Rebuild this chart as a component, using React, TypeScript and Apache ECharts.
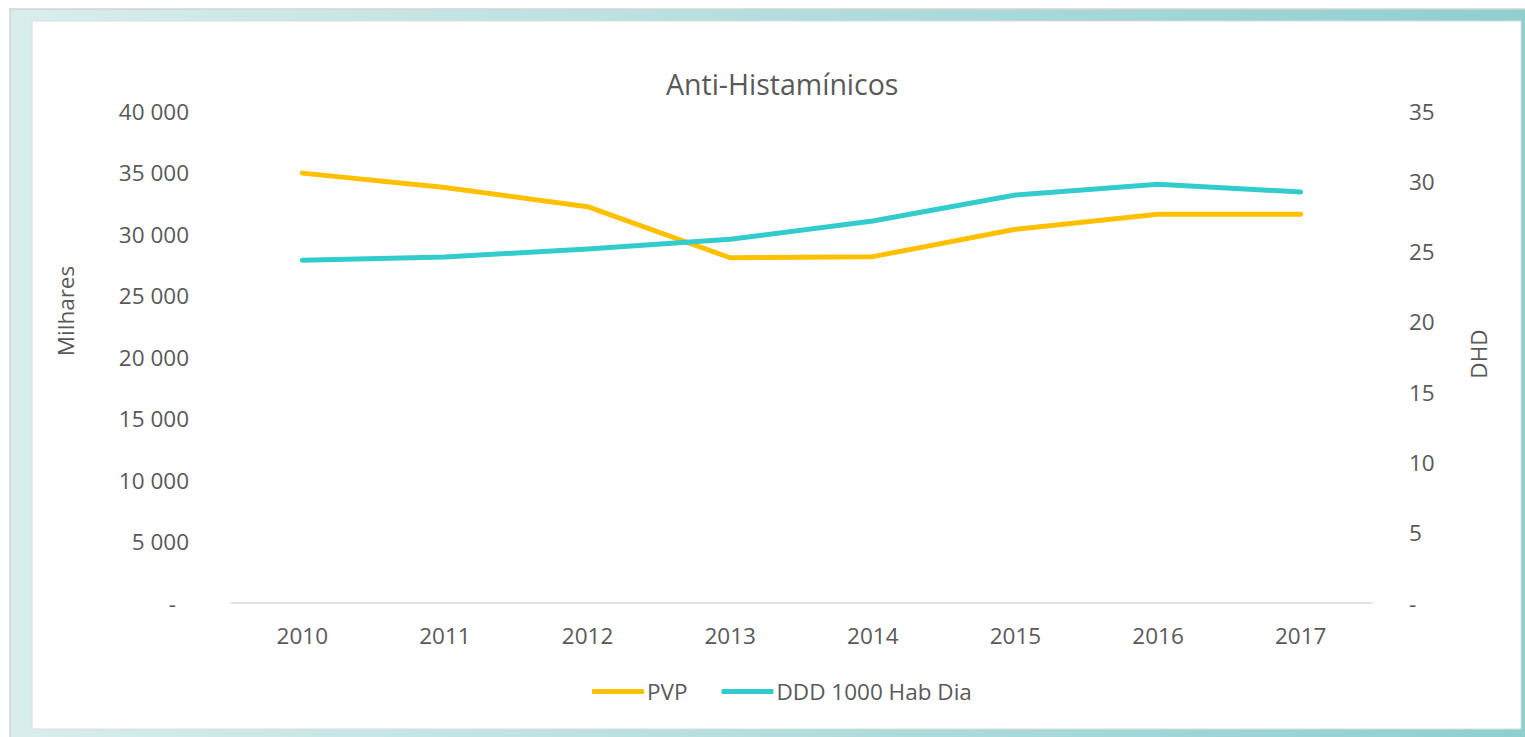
import React, { useEffect, useRef } from "react";
import * as echarts from "echarts";

const years = ["2010", "2011", "2012", "2013", "2014", "2015", "2016", "2017"];
const pvp = [34950, 33780, 32220, 28070, 28160, 30390, 31600, 31600];
const dhd = [24.38, 24.62, 25.18, 25.87, 27.18, 29.02, 29.79, 29.24];
const seriesNames = ["PVP", "DDD 1000 Hab Dia"];
const titleText = "Anti-Histamínicos";
const leftAxisName = "Milhares";
const rightAxisName = "DHD";

const FONT = "'Open Sans', 'Noto Sans', sans-serif";
const TXT = "#595959";
const FS = 22.5;

function fmtThousands(v: number): string {
  return String(v).replace(/\B(?=(\d{3})+(?!\d))/g, " ");
}

export default function App() {
  const ref = useRef<HTMLDivElement>(null);
  useEffect(() => {
    if (!ref.current) return;
    const chart = echarts.init(ref.current, undefined, { renderer: "svg" });
    chart.setOption({
      animation: false,
      backgroundColor: "#ffffff",
      title: {
        text: titleText,
        left: 661,
        top: 64,
        textStyle: { fontFamily: FONT, fontSize: 28.5, fontWeight: "normal", color: TXT },
      },
      graphic: [
        {
          type: "rect",
          z: -10,
          shape: { x: 10, y: 9, width: 1520, height: 735 },
          style: {
            fill: new echarts.graphic.LinearGradient(0, 0, 1, 0, [
              { offset: 0, color: "#d9eded" },
              { offset: 1, color: "#8ecfce" },
            ]),
            stroke: "#d4d4d4",
            lineWidth: 1.5,
          },
          silent: true,
        },
        {
          type: "rect",
          z: -9,
          shape: { x: 32, y: 21, width: 1489, height: 708 },
          style: { fill: "#ffffff", stroke: "#dcdcdc", lineWidth: 1 },
          silent: true,
        },
        {
          type: "text",
          x: 65,
          y: 311,
          rotation: Math.PI / 2,
          style: {
            text: leftAxisName,
            fontFamily: FONT,
            fontSize: FS,
            fill: TXT,
            align: "center",
            verticalAlign: "middle",
          },
        },
        {
          type: "text",
          x: 1478,
          y: 354,
          rotation: Math.PI / 2,
          style: {
            text: rightAxisName,
            fontFamily: FONT,
            fontSize: FS,
            fill: TXT,
            align: "center",
            verticalAlign: "middle",
          },
        },
      ],
      legend: {
        left: 592,
        top: 680,
        padding: 0,
        itemWidth: 52,
        itemHeight: 5,
        itemGap: 34,
        icon: "roundRect",
        textStyle: { fontFamily: FONT, fontSize: FS, color: TXT, padding: [0, 0, 0, -2] },
        data: seriesNames,
      },
      grid: { left: 231, right: 153, top: 111, bottom: 134, containLabel: false },
      xAxis: {
        type: "category",
        data: years,
        boundaryGap: true,
        axisLine: { show: true, lineStyle: { color: "#d9d9d9", width: 1.5 } },
        axisTick: { show: false },
        axisLabel: { margin: 21, fontFamily: FONT, fontSize: FS, color: TXT },
        splitLine: { show: false },
      },
      yAxis: [
        {
          type: "value",
          min: 0,
          max: 40000,
          interval: 5000,
          axisLine: { show: false },
          axisTick: { show: false },
          splitLine: { show: false },
          axisLabel: {
            margin: 42,
            fontFamily: FONT,
            fontSize: FS,
            color: TXT,
            formatter: (v: number) => (v === 0 ? "{z|-}" : fmtThousands(v)),
            rich: {
              z: { padding: [0, 13, 0, 0], fontFamily: FONT, fontSize: FS, color: TXT },
            },
          },
        },
        {
          type: "value",
          min: 0,
          max: 35,
          interval: 5,
          position: "right",
          axisLine: { show: false },
          axisTick: { show: false },
          splitLine: { show: false },
          axisLabel: {
            margin: 37,
            fontFamily: FONT,
            fontSize: FS,
            color: TXT,
            formatter: (v: number) => (v === 0 ? "-" : String(v)),
          },
        },
      ],
      series: [
        {
          name: seriesNames[0],
          type: "line",
          yAxisIndex: 0,
          data: pvp,
          symbol: "none",
          lineStyle: { color: "#FFC000", width: 5, cap: "round", join: "round" },
          itemStyle: { color: "#FFC000" },
        },
        {
          name: seriesNames[1],
          type: "line",
          yAxisIndex: 1,
          data: dhd,
          symbol: "none",
          lineStyle: { color: "#33CCCC", width: 5, cap: "round", join: "round" },
          itemStyle: { color: "#33CCCC" },
        },
      ],
    });
    return () => chart.dispose();
  }, []);
  return (
    <div
      ref={ref}
      style={{ position: "fixed", left: 0, top: 0, width: 1525, height: 737 }}
    />
  );
}
